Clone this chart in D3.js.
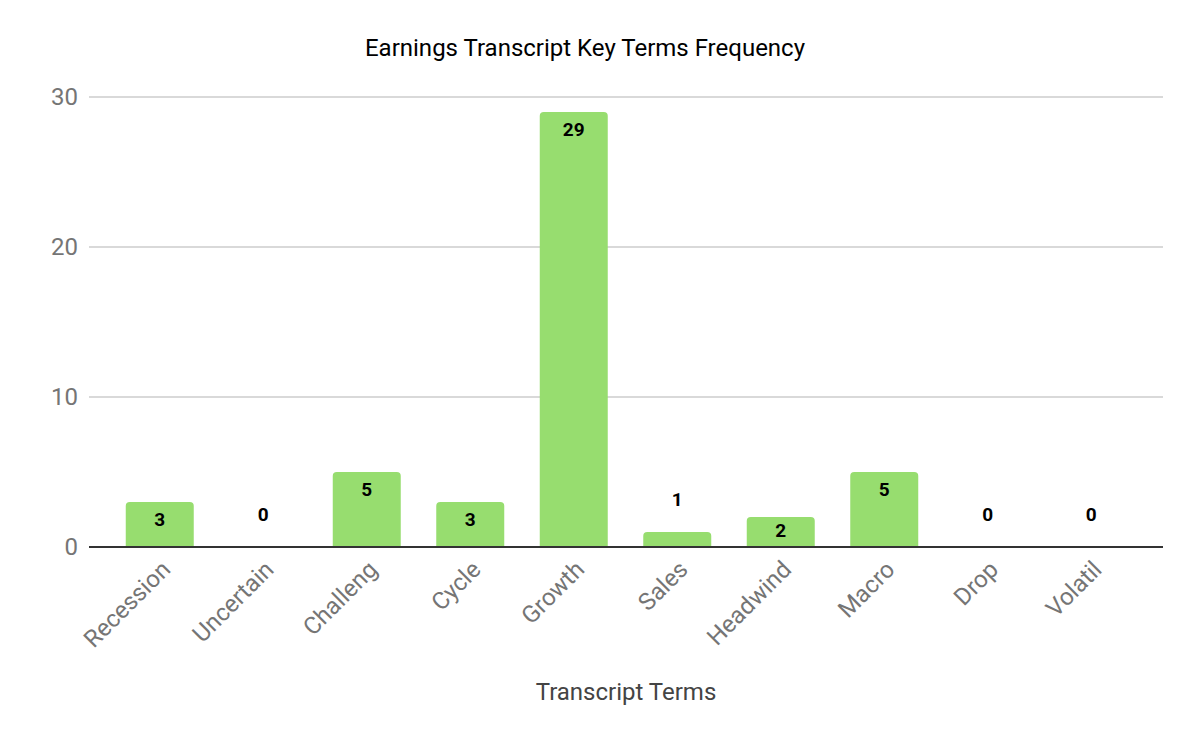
<!DOCTYPE html>
<html><head><meta charset="utf-8">
<script src="https://cdn.jsdelivr.net/npm/d3@7"></script>
<style>body{margin:0;background:#fff;font-family:Roboto,sans-serif;}</style>
</head><body><svg id="c" width="1200" height="741"></svg>
<script>
const categories = ["Recession","Uncertain","Challeng","Cycle","Growth","Sales","Headwind","Macro","Drop","Volatil"];
const values = [3,0,5,3,29,1,2,5,0,0];
const yTicks = [0,10,20,30];
const title = "Earnings Transcript Key Terms Frequency";
const xTitle = "Transcript Terms";

const svg = d3.select("#c");
svg.append("rect").attr("width",1200).attr("height",741).attr("fill","#fff");
const plotL = 89, plotR = 1163;
const y = d3.scaleLinear().domain([0,30]).range([547,97]);
const x = d3.scaleBand().domain(categories).range([108,1143]).paddingInner(0.343).paddingOuter(0.1715);

// gridlines
svg.append("g").selectAll("line").data(yTicks.filter(d=>d>0)).join("line")
  .attr("x1",plotL).attr("x2",plotR).attr("y1",d=>y(d)).attr("y2",d=>y(d))
  .attr("stroke","#cccccc").attr("stroke-width",1.3);
svg.append("g").selectAll("text").data(yTicks).join("text")
  .attr("x",78).attr("y",d=>y(d)-1).attr("dy","0.36em").attr("text-anchor","end")
  .attr("font-size",24).attr("fill","#757575").text(d=>d);

// bars with rounded top
const r = 4;
function barPath(d){
  const x0 = x(d.c), w = x.bandwidth(), top = y(d.v), base = y(0);
  if (d.v <= 0) return "";
  const rr = Math.min(r, (base-top));
  return `M${x0},${base}V${top+rr}Q${x0},${top} ${x0+rr},${top}H${x0+w-rr}Q${x0+w},${top} ${x0+w},${top+rr}V${base}Z`;
}
const data = categories.map((c,i)=>({c, v: values[i]}));
svg.append("g").selectAll("path").data(data).join("path")
  .attr("d",barPath).attr("fill","#97dd6f");

// axis baseline
svg.append("line").attr("x1",plotL).attr("x2",plotR).attr("y1",y(0)).attr("y2",y(0))
  .attr("stroke","#333333").attr("stroke-width",2);

// value labels
svg.append("g").selectAll("text").data(data).join("text")
  .attr("x",d=>x(d.c)+x.bandwidth()/2)
  .attr("y",d=>{
    const top=y(d.v), base=y(0);
    if (base-top >= 25) return Math.min(top+17, (top+base)/2 - 2);
    return top-33;
  })
  .attr("dy","0.36em").attr("text-anchor","middle")
  .attr("font-size",19).attr("font-weight","bold").attr("fill","#000")
  .text(d=>d.v);

// x labels
svg.append("g").selectAll("text").data(categories).join("text")
  .attr("transform",d=>`translate(${x(d)+x.bandwidth()/2+12},${571}) rotate(-45)`)
  .attr("text-anchor","end")
  .attr("font-size",24).attr("fill","#757575").text(d=>d);

// titles
svg.append("text").attr("x",585).attr("y",47).attr("dy","0.36em").attr("text-anchor","middle")
  .attr("font-size",24).attr("fill","#000").text(title);
svg.append("text").attr("x",626).attr("y",691).attr("dy","0.36em").attr("text-anchor","middle")
  .attr("font-size",24).attr("fill","#444").text(xTitle);
</script></body></html>
